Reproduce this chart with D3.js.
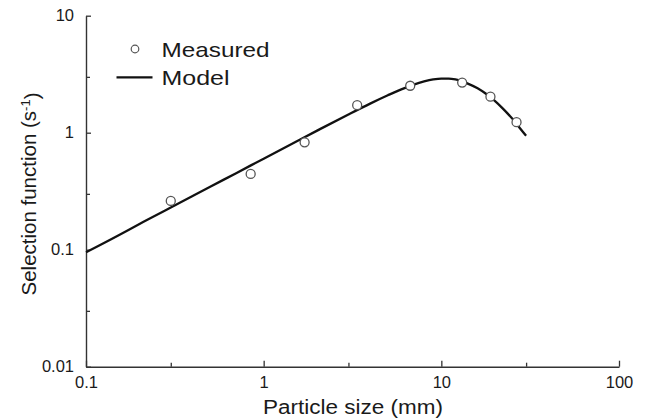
<!DOCTYPE html>
<html>
<head>
<meta charset="utf-8">
<script src="https://cdn.jsdelivr.net/npm/d3@7"></script>
<style>
  html, body { margin: 0; padding: 0; background: #fff; }
  svg { display: block; font-family: "Liberation Sans", Arial, sans-serif; }
</style>
</head>
<body>
<svg id="chart" width="650" height="419"></svg>
<script>
// ---- data ----
const measuredSize = [0.30, 0.845, 1.70, 3.36, 6.68, 13.1, 18.9, 26.5];
const measuredRate = [0.261, 0.444, 0.828, 1.72, 2.52, 2.68, 2.03, 1.23];

const modelSize = [0.1, 0.15, 0.2, 0.3, 0.5, 0.7, 1, 1.5, 2, 3, 4, 5, 6, 7, 8, 9, 10, 11, 12, 13, 14, 16, 18, 20, 22, 24, 26, 28, 30];
const modelRate = [0.095, 0.131, 0.166, 0.229, 0.345, 0.451, 0.600, 0.829, 1.042, 1.432, 1.781, 2.089, 2.36, 2.58, 2.74, 2.85, 2.90, 2.90, 2.85, 2.76, 2.64, 2.40, 2.13, 1.87, 1.63, 1.42, 1.24, 1.07, 0.94];

const xMajorTicks = [0.1, 1, 10, 100];
const xMajorLabels = ["0.1", "1", "10", "100"];
const xMinorTicks = [0.3, 3, 30];
const yMajorTicks = [0.01, 0.1, 1, 10];
const yMajorLabels = ["0.01", "0.1", "1", "10"];
const yMinorTicks = [0.03, 0.3, 3];

const legendLabels = ["Measured", "Model"];
const xTitle = "Particle size (mm)";

// ---- layout ----
const svg = d3.select("#chart");
const x = d3.scaleLog().domain([0.1, 100]).range([86, 619]);
const y = d3.scaleLog().domain([0.01, 10]).range([366.7, 15.7]);
const axisColor = "#333";
const textColor = "#1a1a1a";

// x axis
const xAxis = svg.append("g")
  .attr("transform", `translate(0,${y(0.01)})`)
  .call(d3.axisBottom(x).tickValues(xMajorTicks)
    .tickFormat((d, i) => xMajorLabels[i])
    .tickSizeInner(-6).tickSizeOuter(0).tickPadding(10));
svg.append("g")
  .attr("transform", `translate(0,${y(0.01)})`)
  .call(d3.axisBottom(x).tickValues(xMinorTicks).tickFormat("")
    .tickSizeInner(-4).tickSizeOuter(0))
  .call(g => g.select(".domain").remove());

// y axis
svg.append("g")
  .attr("transform", `translate(${x(0.1)},0)`)
  .call(d3.axisLeft(y).tickValues(yMajorTicks)
    .tickFormat((d, i) => yMajorLabels[i])
    .tickSizeInner(-5).tickSizeOuter(0).tickPadding(12));
svg.append("g")
  .attr("transform", `translate(${x(0.1)},0)`)
  .call(d3.axisLeft(y).tickValues(yMinorTicks).tickFormat("")
    .tickSizeInner(-4).tickSizeOuter(0))
  .call(g => g.select(".domain").remove());

svg.selectAll(".domain").attr("stroke", axisColor).attr("stroke-width", 1.4);
svg.selectAll(".tick line").attr("stroke", axisColor).attr("stroke-width", 1.3);
svg.selectAll(".tick text")
  .attr("fill", textColor)
  .style("font-size", "16.5px")
  .style("font-family", "'Liberation Sans', Arial, sans-serif");

// model line
const line = d3.line()
  .x((d, i) => x(modelSize[i]))
  .y((d, i) => y(modelRate[i]))
  .curve(d3.curveMonotoneX);
svg.append("path")
  .datum(modelRate)
  .attr("d", line)
  .attr("fill", "none")
  .attr("stroke", "#111")
  .attr("stroke-width", 2.3);

// measured points
svg.append("g").selectAll("circle")
  .data(measuredRate)
  .join("circle")
  .attr("cx", (d, i) => x(measuredSize[i]))
  .attr("cy", d => y(d))
  .attr("r", 4.5)
  .attr("fill", "#fff")
  .attr("stroke", "#555")
  .attr("stroke-width", 1.3);

// legend
const leg = svg.append("g");
leg.append("circle").attr("cx", 135).attr("cy", 49).attr("r", 3.8)
  .attr("fill", "#fff").attr("stroke", "#555").attr("stroke-width", 1.2);
leg.append("text").attr("x", 161.5).attr("y", 56.8)
  .attr("textLength", 108).attr("lengthAdjust", "spacingAndGlyphs")
  .attr("fill", textColor).style("font-size", "21px").text(legendLabels[0]);
leg.append("line").attr("x1", 116.5).attr("x2", 152.5).attr("y1", 77.3).attr("y2", 77.3)
  .attr("stroke", "#111").attr("stroke-width", 2.3);
leg.append("text").attr("x", 161.5).attr("y", 85)
  .attr("textLength", 68).attr("lengthAdjust", "spacingAndGlyphs")
  .attr("fill", textColor).style("font-size", "21px").text(legendLabels[1]);

// axis titles
svg.append("text")
  .attr("x", 353).attr("y", 414.3)
  .attr("text-anchor", "middle")
  .attr("textLength", 180).attr("lengthAdjust", "spacingAndGlyphs")
  .attr("fill", textColor).style("font-size", "19.5px")
  .text(xTitle);

const yt = svg.append("text")
  .attr("transform", "translate(35.5,194) rotate(-90)")
  .attr("text-anchor", "middle")
  .attr("fill", textColor).style("font-size", "20.5px");
yt.append("tspan").text("Selection function (s");
yt.append("tspan").attr("dy", "-0.45em").style("font-size", "13px").text("-1");
yt.append("tspan").attr("dy", "0.45em").text(")");
</script>
</body>
</html>
